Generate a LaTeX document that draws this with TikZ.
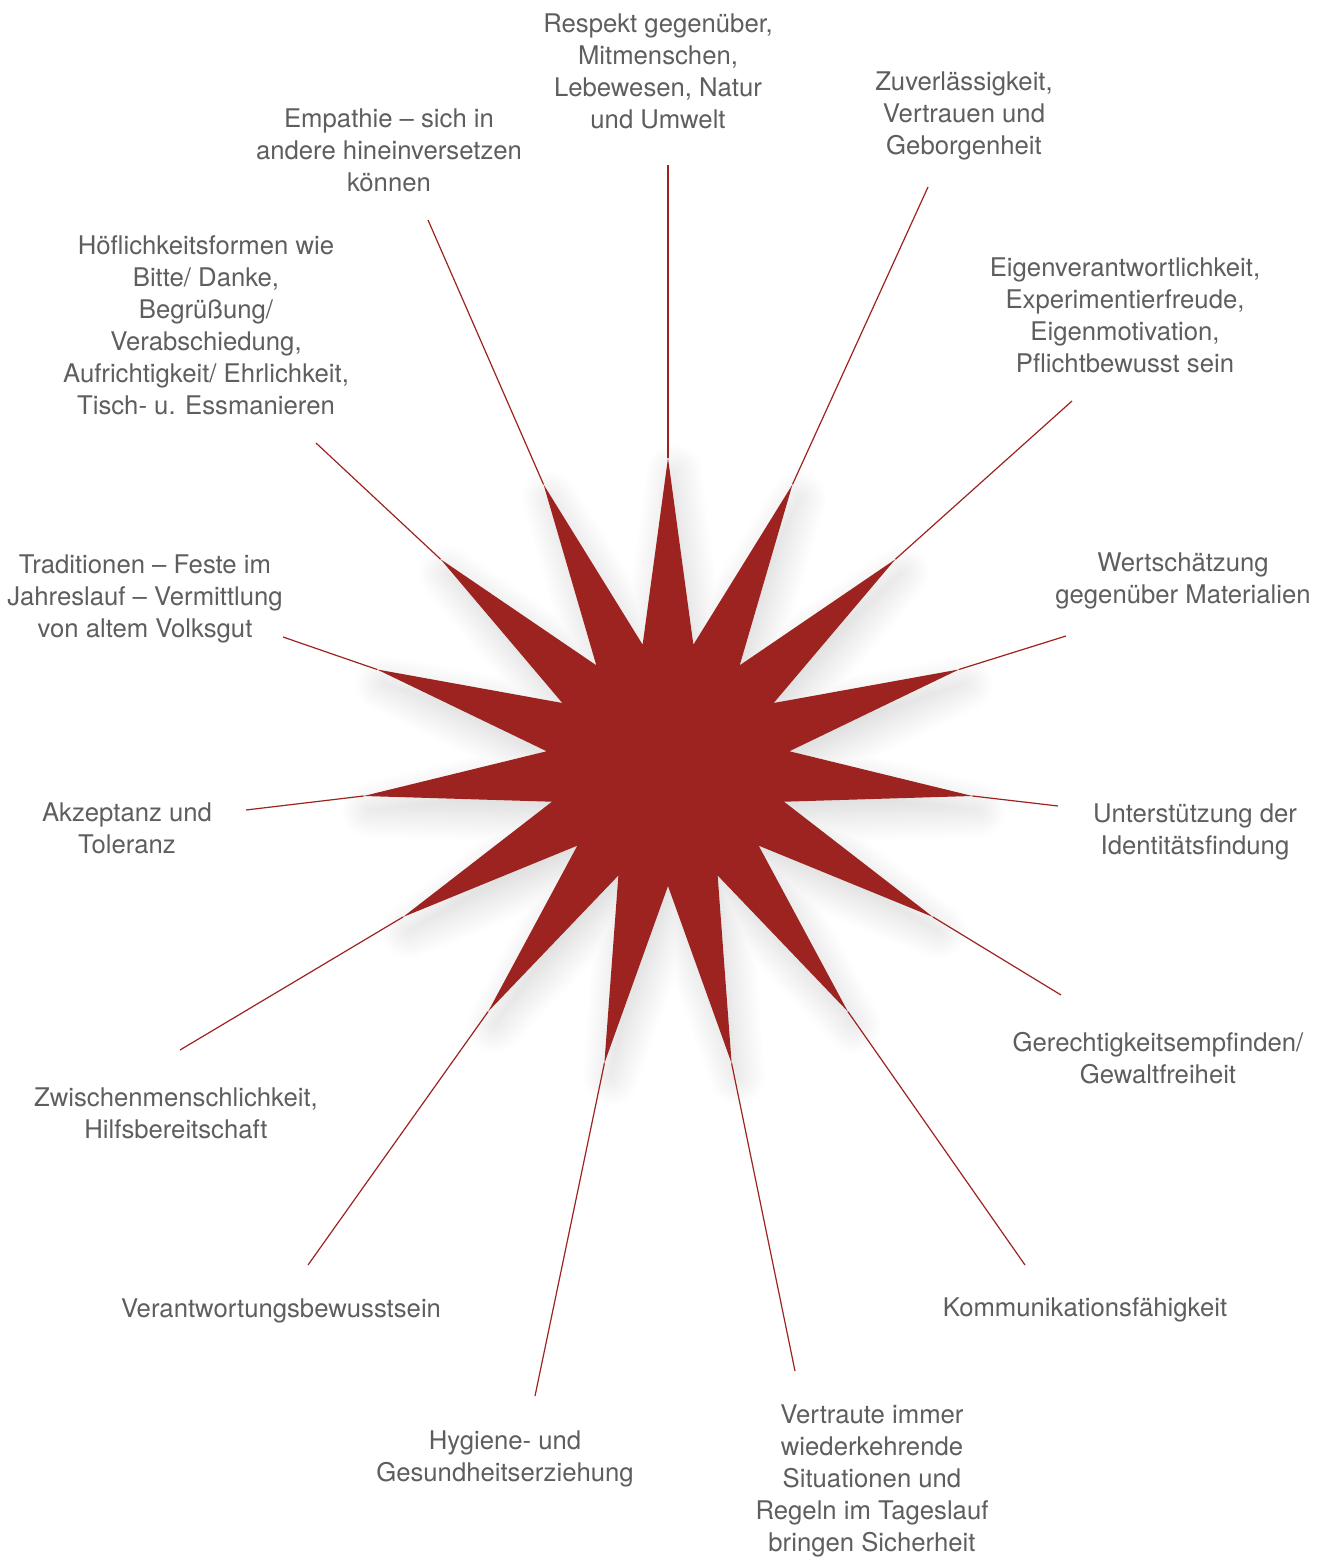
\documentclass[tikz,border=0pt]{standalone}
\usepackage{fontspec}
\setmainfont{TeX Gyre Heros}
\usetikzlibrary{shadows.blur}

\definecolor{starred}{HTML}{9C2320}
\definecolor{labelgrey}{HTML}{5E5E5E}

\tikzset{
  spoke/.style={draw=starred, line width=0.6pt},
  lbl/.style={align=center, text=labelgrey, inner sep=0pt, yshift=-1.5pt,
    font=\fontsize{12.85}{16}\selectfont},
}

\begin{document}
\begin{tikzpicture}[x=0.5pt,y=-0.5pt]
  \useasboundingbox (0,0) rectangle (1325,1557);

  % star
  \begin{scope}[shift={(668,764)}]
    \foreach \i in {1,...,15}
      \coordinate (t\i) at ({-114+24*\i}:306);
    \fill[starred, blur shadow={shadow xshift=3pt, shadow yshift=-7pt,
        shadow blur radius=14pt, shadow blur steps=20, shadow opacity=16}]
      (-90:306) \foreach \a in {-66,-42,...,270} { -- ({\a-12}:122) -- (\a:306)} -- cycle;
  \end{scope}

  % free ends of the spokes
  \coordinate (e1) at (668,165);
  \coordinate (e2) at (928,187);
  \coordinate (e3) at (1072,401);
  \coordinate (e4) at (1066,636);
  \coordinate (e5) at (1058,806);
  \coordinate (e6) at (1061,995);
  \coordinate (e7) at (1025,1265);
  \coordinate (e8) at (795,1371);
  \coordinate (e9) at (535,1396);
  \coordinate (e10) at (308,1265);
  \coordinate (e11) at (180,1050);
  \coordinate (e12) at (246,810);
  \coordinate (e13) at (283,637);
  \coordinate (e14) at (316,443);
  \coordinate (e15) at (428,220);

  \foreach \i in {1,...,15}
    \draw[spoke] (t\i) -- (e\i);

  % labels
  \node[lbl] (respekt) at (658,68) {Respekt gegenüber,\\Mitmenschen,\\Lebewesen, Natur\\und Umwelt};
  \node[lbl] (zuverl) at (964,113) {Zuverlässigkeit,\\Vertrauen und\\Geborgenheit};
  \node[lbl] (eigenv) at (1125,312) {Eigenverantwortlichkeit,\\Experimentierfreude,\\Eigenmotivation,\\Pflichtbewusst sein};
  \node[lbl] (wertsch) at (1183,578) {Wertschätzung\\gegenüber Materialien};
  \node[lbl] (identit) at (1195,829) {Unterstützung der\\Identitätsfindung};
  \node[lbl] (gerecht) at (1158,1055) {Gerechtigkeitsempfinden/\\Gewaltfreiheit};
  \node[lbl] (kommun) at (1085,1307) {Kommunikationsfähigkeit};
  \node[lbl] (vertraut) at (872,1478) {Vertraute immer\\wiederkehrende\\Situationen und\\Regeln im Tageslauf\\bringen Sicherheit};
  \node[lbl] (hygiene) at (505,1456) {Hygiene- und\\Gesundheitserziehung};
  \node[lbl] (verantw) at (281,1308) {Verantwortungsbewusstsein};
  \node[lbl] (zwischen) at (176,1110) {Zwischenmenschlichkeit,\\Hilfsbereitschaft};
  \node[lbl] (akzept) at (127,825) {Akzeptanz und\\Toleranz};
  \node[lbl] (tradit) at (145,596) {Traditionen – Feste im\\Jahreslauf – Vermittlung\\von altem Volksgut};
  \node[lbl] (hoefl) at (206,322) {Höflichkeitsformen wie\\Bitte/ Danke,\\Begrüßung/\\Verabschiedung,\\Aufrichtigkeit/ Ehrlichkeit,\\Tisch- u. Essmanieren};
  \node[lbl] (empathie) at (389,147) {Empathie – sich in\\andere hineinversetzen\\können};
\end{tikzpicture}
\end{document}
